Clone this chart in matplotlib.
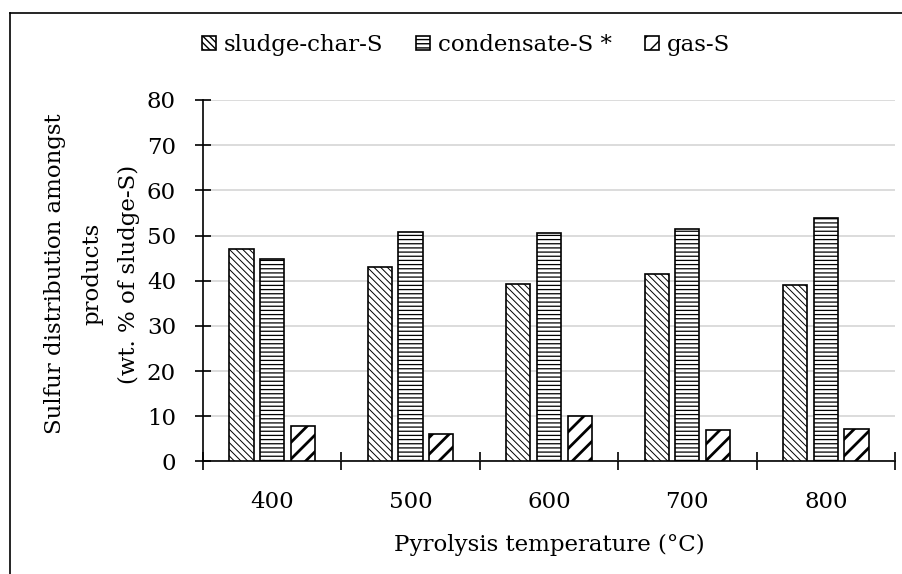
import matplotlib
matplotlib.use("Agg")
import matplotlib.pyplot as plt
import numpy as np

# data
temperatures = ["400", "500", "600", "700", "800"]
char_s = [47.1, 43.0, 39.3, 41.5, 39.0]
condensate_s = [44.9, 50.8, 50.6, 51.4, 53.8]
gas_s = [7.8, 6.0, 10.0, 7.0, 7.1]

series = [
    ("sludge-char-S", char_s, "\\\\\\\\\\", 0.7),
    ("condensate-S *", condensate_s, "----", 0.9),
    ("gas-S", gas_s, "//", 2.0),
]

plt.rcParams["font.family"] = ["DejaVu Serif"]
plt.rcParams["font.size"] = 16.5

fig = plt.figure(figsize=(9.03, 5.74), dpi=100)
ax = fig.add_axes([0.2248, 0.196, 0.9911 - 0.2248, 0.8258 - 0.196])

x = np.arange(len(temperatures))
width = 0.175
step = 0.222
for i, (name, vals, hatch, hlw) in enumerate(series):
    bars = ax.bar(x + (i - 1) * step, vals, width, label=name, facecolor="white",
                  edgecolor="black", linewidth=1.2, hatch=hatch, zorder=3)
    for b in bars:
        b.set_hatch_linewidth(hlw)

ax.set_ylim(0, 80)
ax.set_xlim(-0.5, len(temperatures) - 0.5)
ax.set_yticks(np.arange(0, 81, 10))
ax.yaxis.grid(True, color="#d9d9d9", linewidth=1.3, zorder=0)
ax.set_axisbelow(True)

# category boundaries as major ticks, labels on minor ticks
ax.set_xticks(np.arange(-0.5, len(temperatures), 1.0))
ax.set_xticklabels([])
ax.set_xticks(x, minor=True)
ax.set_xticklabels(temperatures, minor=True)
ax.tick_params(axis="x", which="major", direction="inout", length=13, width=1.2)
ax.tick_params(axis="x", which="minor", length=0, pad=21)
ax.tick_params(axis="y", direction="inout", length=11, width=1.2, pad=14)

for s in ["top", "right"]:
    ax.spines[s].set_visible(False)
for s in ["left", "bottom"]:
    ax.spines[s].set_linewidth(1.2)

fig.text(549 / 903, 1 - 545 / 574, "Pyrolysis temperature (°C)", ha="center", va="center")
fig.text(92 / 903, 1 - 274 / 574,
         "Sulfur distribution amongst\nproducts\n(wt. % of sludge-S)",
         rotation=90, ha="center", va="center", multialignment="center", linespacing=1.85)

fig.legend(loc="center", bbox_to_anchor=(466 / 903, 1 - 45 / 574), ncol=3, frameon=False,
           handlelength=0.6, handleheight=0.6, handletextpad=0.35, columnspacing=1.45)

# outer frame (top and left edges visible in the reference)
fig.add_artist(plt.Line2D([10 / 903, 10 / 903], [0, 1 - 13 / 574], color="black", lw=1.2))
fig.add_artist(plt.Line2D([10 / 903, 1], [1 - 13 / 574, 1 - 13 / 574], color="black", lw=1.2))

fig.savefig("out.png", dpi=100)
